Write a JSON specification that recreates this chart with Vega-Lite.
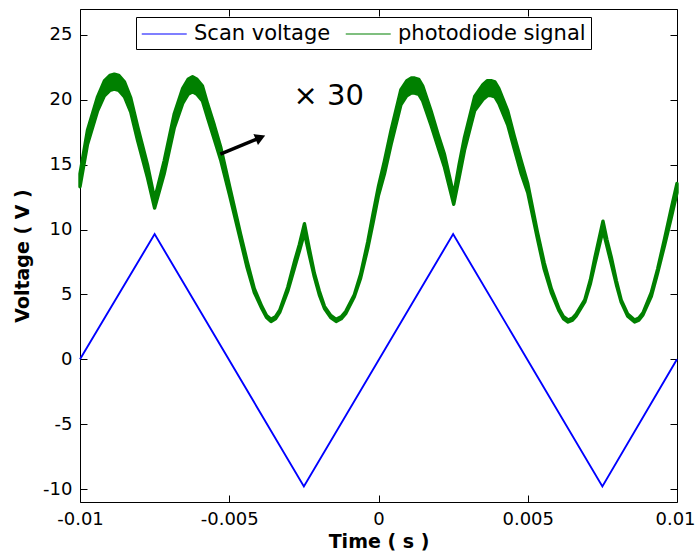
{
  "$schema": "https://vega.github.io/schema/vega-lite/v6.json",
  "width": 597,
  "height": 493,
  "autosize": {"type": "none"},
  "padding": {"left": 80, "top": 9, "right": 19, "bottom": 52},
  "background": "white",
  "config": {
    "view": {"stroke": "#000", "strokeWidth": 1},
    "axis": {
      "domain": false, "grid": false, "tickColor": "#000", "tickSize": -7, "tickWidth": 1,
      "labelFont": "DejaVu Sans", "labelFontSize": 18, "labelColor": "#000", "labelPadding": 15,
      "titleFont": "DejaVu Sans", "titleFontSize": 19, "titleFontWeight": "bold", "titleColor": "#000"
    }
  },
  "datasets": {
    "scan": [
      {"t": -0.01, "v": 0}, {"t": -0.0075, "v": 9.65}, {"t": -0.0025, "v": -9.8},
      {"t": 0.0025, "v": 9.65}, {"t": 0.0075, "v": -9.8}, {"t": 0.01, "v": 0}
    ],
    "pd": [
      {"t": -0.01, "v": 13.8, "lo": 13.3, "hi": 14.3},
      {"t": -0.00975, "v": 17.1, "lo": 16.55, "hi": 17.65},
      {"t": -0.00941, "v": 19.7, "lo": 19.15, "hi": 20.25},
      {"t": -0.00918, "v": 20.9, "lo": 20.32, "hi": 21.48},
      {"t": -0.009, "v": 21.3, "lo": 20.72, "hi": 21.88},
      {"t": -0.00885, "v": 21.4, "lo": 20.82, "hi": 21.98},
      {"t": -0.0087, "v": 21.3, "lo": 20.72, "hi": 21.88},
      {"t": -0.00851, "v": 20.8, "lo": 20.22, "hi": 21.38},
      {"t": -0.0083, "v": 19.6, "lo": 19.05, "hi": 20.15},
      {"t": -0.00807, "v": 17.4, "lo": 16.85, "hi": 17.95},
      {"t": -0.00774, "v": 14.5, "lo": 14.0, "hi": 15.0},
      {"t": -0.0075, "v": 12.0, "lo": 11.65, "hi": 12.35},
      {"t": -0.00718, "v": 14.8, "lo": 14.3, "hi": 15.3},
      {"t": -0.00684, "v": 18.4, "lo": 17.85, "hi": 18.95},
      {"t": -0.00656, "v": 20.3, "lo": 19.72, "hi": 20.88},
      {"t": -0.00638, "v": 21.0, "lo": 20.42, "hi": 21.58},
      {"t": -0.00623, "v": 21.2, "lo": 20.62, "hi": 21.78},
      {"t": -0.00608, "v": 21.0, "lo": 20.42, "hi": 21.58},
      {"t": -0.0059, "v": 20.5, "lo": 19.92, "hi": 21.08},
      {"t": -0.00572, "v": 19.1, "lo": 18.55, "hi": 19.65},
      {"t": -0.0055, "v": 17.5, "lo": 16.95, "hi": 18.05},
      {"t": -0.00528, "v": 15.8, "lo": 15.3, "hi": 16.3},
      {"t": -0.00499, "v": 13.0, "lo": 12.65, "hi": 13.35},
      {"t": -0.00462, "v": 9.4, "lo": 9.15, "hi": 9.65},
      {"t": -0.0044, "v": 7.3, "lo": 7.05, "hi": 7.55},
      {"t": -0.00416, "v": 5.3, "lo": 5.15, "hi": 5.45},
      {"t": -0.00391, "v": 4.0, "lo": 3.92, "hi": 4.08},
      {"t": -0.00375, "v": 3.3, "lo": 3.22, "hi": 3.38},
      {"t": -0.0036, "v": 3.0, "lo": 2.92, "hi": 3.08},
      {"t": -0.00345, "v": 3.2, "lo": 3.12, "hi": 3.28},
      {"t": -0.00331, "v": 3.7, "lo": 3.62, "hi": 3.78},
      {"t": -0.00304, "v": 5.4, "lo": 5.25, "hi": 5.55},
      {"t": -0.0028, "v": 7.4, "lo": 7.15, "hi": 7.65},
      {"t": -0.00265, "v": 8.6, "lo": 8.35, "hi": 8.85},
      {"t": -0.00248, "v": 10.1, "lo": 9.75, "hi": 10.45},
      {"t": -0.00232, "v": 8.3, "lo": 8.05, "hi": 8.55},
      {"t": -0.00215, "v": 6.5, "lo": 6.35, "hi": 6.65},
      {"t": -0.00198, "v": 5.1, "lo": 4.95, "hi": 5.25},
      {"t": -0.00181, "v": 4.0, "lo": 3.92, "hi": 4.08},
      {"t": -0.0016, "v": 3.3, "lo": 3.22, "hi": 3.38},
      {"t": -0.00142, "v": 3.0, "lo": 2.92, "hi": 3.08},
      {"t": -0.00125, "v": 3.2, "lo": 3.12, "hi": 3.28},
      {"t": -0.0011, "v": 3.6, "lo": 3.52, "hi": 3.68},
      {"t": -0.00081, "v": 4.9, "lo": 4.82, "hi": 4.98},
      {"t": -0.0006, "v": 6.4, "lo": 6.25, "hi": 6.55},
      {"t": -0.00036, "v": 8.8, "lo": 8.55, "hi": 9.05},
      {"t": -0.00018, "v": 10.9, "lo": 10.55, "hi": 11.25},
      {"t": 0.0, "v": 13.0, "lo": 12.65, "hi": 13.35},
      {"t": 0.0002, "v": 14.8, "lo": 14.3, "hi": 15.3},
      {"t": 0.00042, "v": 17.1, "lo": 16.55, "hi": 17.65},
      {"t": 0.00075, "v": 20.2, "lo": 19.62, "hi": 20.78},
      {"t": 0.00095, "v": 20.9, "lo": 20.32, "hi": 21.48},
      {"t": 0.0011, "v": 21.1, "lo": 20.52, "hi": 21.68},
      {"t": 0.00121, "v": 21.1, "lo": 20.52, "hi": 21.68},
      {"t": 0.00135, "v": 21.0, "lo": 20.42, "hi": 21.58},
      {"t": 0.00148, "v": 20.5, "lo": 19.92, "hi": 21.08},
      {"t": 0.00176, "v": 18.6, "lo": 18.05, "hi": 19.15},
      {"t": 0.002, "v": 16.8, "lo": 16.3, "hi": 17.3},
      {"t": 0.00221, "v": 15.3, "lo": 14.8, "hi": 15.8},
      {"t": 0.00252, "v": 12.3, "lo": 11.95, "hi": 12.65},
      {"t": 0.0027, "v": 14.5, "lo": 14.0, "hi": 15.0},
      {"t": 0.00288, "v": 16.6, "lo": 16.1, "hi": 17.1},
      {"t": 0.00322, "v": 19.7, "lo": 19.15, "hi": 20.25},
      {"t": 0.0035, "v": 20.6, "lo": 20.02, "hi": 21.18},
      {"t": 0.00365, "v": 20.9, "lo": 20.32, "hi": 21.48},
      {"t": 0.00377, "v": 20.9, "lo": 20.32, "hi": 21.48},
      {"t": 0.0039, "v": 20.8, "lo": 20.22, "hi": 21.38},
      {"t": 0.00403, "v": 20.3, "lo": 19.72, "hi": 20.88},
      {"t": 0.00433, "v": 18.6, "lo": 18.05, "hi": 19.15},
      {"t": 0.00455, "v": 16.7, "lo": 16.2, "hi": 17.2},
      {"t": 0.00478, "v": 14.8, "lo": 14.3, "hi": 15.3},
      {"t": 0.005, "v": 13.2, "lo": 12.85, "hi": 13.55},
      {"t": 0.00532, "v": 9.6, "lo": 9.35, "hi": 9.85},
      {"t": 0.00555, "v": 7.2, "lo": 6.95, "hi": 7.45},
      {"t": 0.00579, "v": 5.3, "lo": 5.15, "hi": 5.45},
      {"t": 0.00605, "v": 3.8, "lo": 3.72, "hi": 3.88},
      {"t": 0.0062, "v": 3.2, "lo": 3.12, "hi": 3.28},
      {"t": 0.00635, "v": 2.95, "lo": 2.87, "hi": 3.03},
      {"t": 0.0065, "v": 3.1, "lo": 3.02, "hi": 3.18},
      {"t": 0.00662, "v": 3.4, "lo": 3.32, "hi": 3.48},
      {"t": 0.00691, "v": 4.5, "lo": 4.42, "hi": 4.58},
      {"t": 0.0071, "v": 6.0, "lo": 5.85, "hi": 6.15},
      {"t": 0.00725, "v": 7.6, "lo": 7.35, "hi": 7.85},
      {"t": 0.00752, "v": 10.3, "lo": 9.95, "hi": 10.65},
      {"t": 0.00765, "v": 9.0, "lo": 8.75, "hi": 9.25},
      {"t": 0.0078, "v": 7.6, "lo": 7.35, "hi": 7.85},
      {"t": 0.00797, "v": 5.9, "lo": 5.75, "hi": 6.05},
      {"t": 0.00813, "v": 4.5, "lo": 4.42, "hi": 4.58},
      {"t": 0.00835, "v": 3.4, "lo": 3.32, "hi": 3.48},
      {"t": 0.00858, "v": 2.95, "lo": 2.87, "hi": 3.03},
      {"t": 0.00872, "v": 3.1, "lo": 3.02, "hi": 3.18},
      {"t": 0.00886, "v": 3.5, "lo": 3.42, "hi": 3.58},
      {"t": 0.00914, "v": 5.0, "lo": 4.85, "hi": 5.15},
      {"t": 0.00935, "v": 6.8, "lo": 6.65, "hi": 6.95},
      {"t": 0.00959, "v": 9.1, "lo": 8.85, "hi": 9.35},
      {"t": 0.0098, "v": 11.2, "lo": 10.85, "hi": 11.55},
      {"t": 0.01, "v": 13.2, "lo": 12.85, "hi": 13.55}
    ]
  },
  "layer": [
    {
      "data": {"name": "scan"},
      "mark": {"type": "line", "strokeWidth": 1.9},
      "encoding": {
        "x": {
          "field": "t", "type": "quantitative",
          "scale": {"domain": [-0.01, 0.01], "nice": false, "zero": false},
          "axis": {
            "values": [-0.01, -0.005, 0, 0.005, 0.01], "labelExpr": "'' + datum.value", "title": "Time ( s )",
            "labelFlush": false, "labelOverlap": false, "labelBound": false,
            "labelOffset": {"condition": {"test": "datum.value == 0.01", "value": -2}, "value": 0}
          }
        },
        "y": {
          "field": "v", "type": "quantitative",
          "scale": {"domain": [-11, 27], "nice": false, "zero": false},
          "axis": {"values": [-10, -5, 0, 5, 10, 15, 20, 25], "labelExpr": "'' + datum.value", "title": "Voltage ( V )", "titlePadding": 10}
        },
        "color": {
          "datum": "Scan voltage", "type": "nominal",
          "scale": {"domain": ["Scan voltage", "photodiode signal"], "range": ["#0000ff", "#008000"]},
          "legend": {
            "orient": "none", "legendX": 56, "legendY": 8, "direction": "horizontal",
            "fillColor": "#ffffff", "strokeColor": "#000000", "padding": 5,
            "symbolType": "M-1,0L3,0", "symbolSize": 506, "symbolStrokeWidth": 1.2, "symbolOpacity": 1,
            "labelFont": "DejaVu Sans", "labelFontSize": 21, "labelColor": "#000", "labelLimit": 400,
            "labelOffset": 29, "columnPadding": 12, "title": null
          }
        }
      }
    },
    {
      "data": {"name": "pd"},
      "mark": {"type": "area", "color": "#008000", "stroke": "#008000", "strokeWidth": 3.4, "strokeJoin": "round"},
      "encoding": {
        "x": {"field": "t", "type": "quantitative", "axis": null},
        "y": {"field": "lo", "type": "quantitative", "axis": null},
        "y2": {"field": "hi"}
      }
    },
    {
      "data": {"name": "pd"},
      "mark": {"type": "line", "strokeWidth": 1},
      "encoding": {
        "x": {"field": "t", "type": "quantitative", "axis": null},
        "y": {"field": "v", "type": "quantitative", "axis": null},
        "color": {"datum": "photodiode signal", "type": "nominal"}
      }
    },
    {
      "data": {"values": [{}]},
      "mark": {"type": "rule", "strokeWidth": 3.5, "color": "#000"},
      "encoding": {
        "x": {"datum": -0.005299, "type": "quantitative", "axis": null},
        "y": {"datum": 15.81, "type": "quantitative", "axis": null},
        "x2": {"datum": -0.004049},
        "y2": {"datum": 17.0}
      }
    },
    {
      "data": {"values": [{}]},
      "mark": {"type": "point", "shape": "triangle-right", "angle": 337.5, "size": 140, "filled": true, "color": "#000", "opacity": 1},
      "encoding": {
        "x": {"datum": -0.003955, "type": "quantitative", "axis": null},
        "y": {"datum": 17.09, "type": "quantitative", "axis": null}
      }
    },
    {
      "data": {"values": [{}]},
      "mark": {"type": "text", "text": "× 30", "font": "DejaVu Sans", "fontSize": 29, "align": "center", "baseline": "alphabetic", "color": "#000"},
      "encoding": {
        "x": {"datum": -0.00167, "type": "quantitative", "axis": {"orient": "top", "labels": false, "title": null, "values": [-0.01, -0.005, 0, 0.005, 0.01]}},
        "y": {"datum": 19.6, "type": "quantitative", "axis": {"orient": "right", "labels": false, "title": null, "values": [-10, -5, 0, 5, 10, 15, 20, 25]}}
      }
    }
  ],
  "resolve": {"axis": {"x": "independent", "y": "independent"}}
}
